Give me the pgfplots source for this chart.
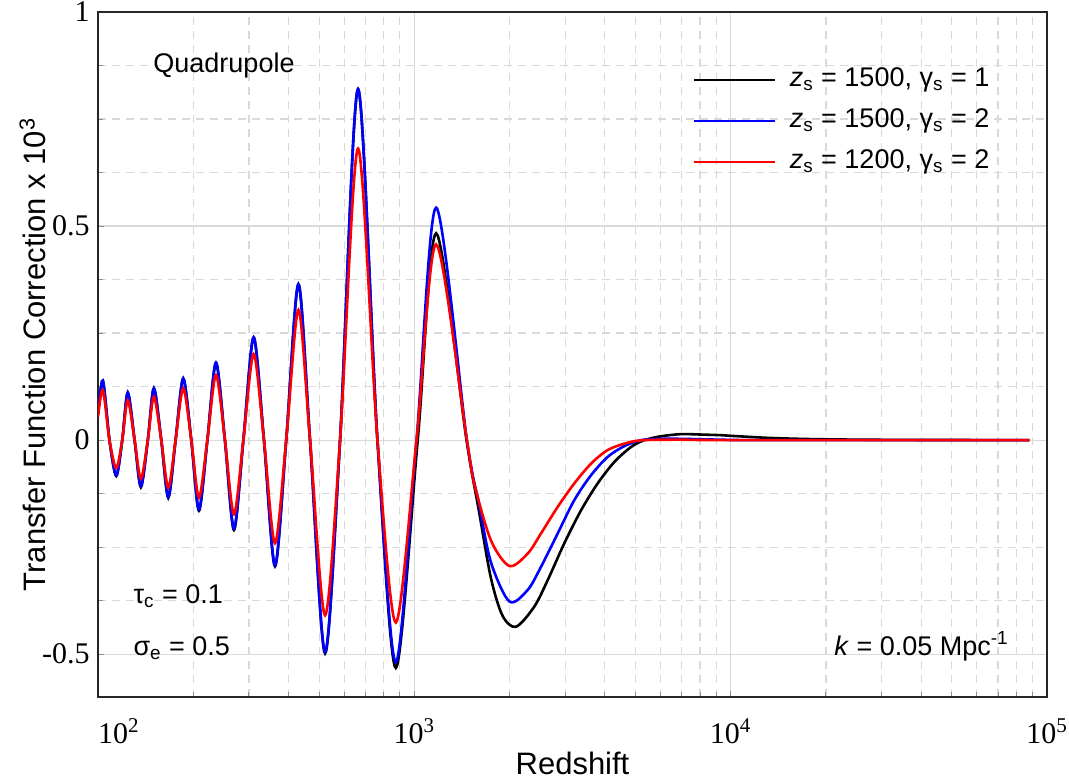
\documentclass[border=0pt]{standalone}
\usepackage{fontspec}
\setmainfont{Liberation Sans}
\newfontfamily\tmr{Liberation Serif}
\usepackage{graphicx}
\usepackage{pgfplots}
\usepackage{pgfplotstable}
\pgfplotsset{compat=1.18}

% z_s = 1500, gamma_s = 1
\pgfplotstableread{
x y
100 0.060
103.6 0.139
108.7 0
114.2 -0.084
119.3 0
124.2 0.111
130.5 0
136.6 -0.110
143.7 0
150.2 0.121
158.5 0
166.8 -0.135
175.9 0
186.0 0.144
197.2 0
208.5 -0.165
221.7 0
236.0 0.181
251.9 0
269.0 -0.210
288.1 0
310.5 0.240
334.7 0
362.7 -0.295
393.6 0
430.1 0.364
468.0 0
522.2 -0.498
582.4 0
664.0 0.820
764.6 0
873.9 -0.532
1025 0
1172 0.483
1462 0
1600 -0.165
1746 -0.322
1900 -0.410
2095 -0.436
2394 -0.389
2640 -0.327
2979 -0.241
3365 -0.164
3799 -0.101
4289 -0.051
4843 -0.016
5338 0
6026 0.009
6970 0.014
8066 0.013
9333 0.0115
10037 0.010
13430 0.005
19330 0.002
34640 0.0005
88000 0
}\tabA

% z_s = 1500, gamma_s = 2
\pgfplotstableread{
x y
100 0.060
103.6 0.139
108.7 0
114.2 -0.082
119.3 0
124.2 0.111
130.5 0
136.6 -0.107
143.7 0
150.2 0.121
158.5 0
166.8 -0.132
175.9 0
186.0 0.144
197.2 0
208.5 -0.162
221.7 0
236.0 0.181
251.9 0
269.0 -0.207
288.1 0
310.5 0.240
334.7 0
362.7 -0.292
393.6 0
430.1 0.364
468.0 0
522.2 -0.495
582.4 0
664.0 0.820
764.6 0
873.9 -0.519
1016 0
1172 0.543
1466 0
1600 -0.148
1746 -0.285
1998 -0.377
2282 -0.350
2514 -0.296
2839 -0.218
3205 -0.140
3619 -0.082
4088 -0.039
4612 -0.014
5211 0
6026 0.003
6970 0.003
9333 0.001
12490 0
88000 0
}\tabB

% z_s = 1200, gamma_s = 2
\pgfplotstableread{
x y
100 0.055
103.6 0.117
108.7 0
114.2 -0.065
119.3 0
124.2 0.093
130.5 0
136.6 -0.090
143.7 0
150.2 0.101
158.5 0
166.8 -0.111
175.9 0
186.0 0.121
197.2 0
208.5 -0.134
221.7 0
236.0 0.152
251.9 0
269.0 -0.173
288.1 0
310.5 0.201
334.7 0
362.7 -0.241
393.6 0
430.1 0.304
468.0 0
522.2 -0.409
582.4 0
664.0 0.681
764.6 0
873.9 -0.426
1016 0
1172 0.457
1466 0
1546 -0.101
1746 -0.234
1998 -0.294
2282 -0.265
2514 -0.218
2839 -0.156
3205 -0.101
3619 -0.055
4088 -0.023
4728 -0.006
5338 0
6970 0.001
10000 0
88000 0
}\tabC

\begin{document}
\begin{tikzpicture}
\useasboundingbox (-49pt,-41.5pt) rectangle (485.5pt,348.5pt);
\begin{axis}[
  scale only axis,
  width=474.5pt, height=342.5pt,
  xmode=log,
  xmin=100, xmax=100000,
  ymin=-0.6, ymax=1,
  xtick={100,1000,10000,100000},
  xticklabels={\makebox[0pt][l]{10\textsuperscript{2}},10\textsuperscript{3},10\textsuperscript{4},10\textsuperscript{5}},
  ytick={-0.5,0,0.5,1},
  yticklabels={-0.5,0,0.5,1},
  minor y tick num=3,
  xtick pos=left, ytick pos=left,
  tick align=inside,
  major tick length=3pt, minor tick length=2.5pt,
  tick style={black!45, line width=0.5pt},
  grid=both,
  major grid style={solid, black!15, line width=0.6pt},
  minor grid style={black!15, line width=0.6pt, dash pattern=on 4pt off 3pt},
  axis line style={black!85, line width=1pt},
  xticklabel style={font=\tmr\fontsize{15}{18}\selectfont, anchor=base, yshift=-23pt},
  yticklabel style={font=\tmr\fontsize{15}{18}\selectfont, anchor=east, inner sep=0pt, xshift=-4pt},
  xlabel={Redshift},
  ylabel={Transfer Function Correction x 10\textsuperscript{3}},
  label style={font=\fontsize{15.5}{18}\selectfont},
  xlabel style={at={(axis description cs:0.5,-0.1125)}, anchor=base, inner sep=0pt},
  ylabel style={at={(axis description cs:-0.0558,0.5)}, anchor=base, rotate=0},
  legend style={at={(axis description cs:0.62,0.93)}, anchor=north west,
    draw=none, fill=none, font=\fontsize{13.5}{16}\selectfont,
    row sep=5pt, column sep=6pt,
    nodes={inner sep=1pt, text height=10pt, text depth=3.5pt}},
  legend cell align=left,
  legend image code/.code={\draw[#1, line width=1pt] (0pt,0pt) -- (40.5pt,0pt);},
]
\addplot[black, line width=1.3pt, smooth] table {\tabA};
\addlegendentry{\textit{z}\textsubscript{s} = 1500, γ\textsubscript{s} = 1}
\addplot[blue, line width=1.3pt, smooth] table {\tabB};
\addlegendentry{\textit{z}\textsubscript{s} = 1500, γ\textsubscript{s} = 2}
\addplot[red, line width=1.3pt, smooth] table {\tabC};
\addlegendentry{\textit{z}\textsubscript{s} = 1200, γ\textsubscript{s} = 2}

\node[anchor=base west, inner sep=0pt, font=\fontsize{13.5}{16}\selectfont] at (axis description cs:0.058,0.911) {Quadrupole};
\node[anchor=base west, inner sep=0pt, font=\fontsize{13.5}{16}\selectfont] at (axis description cs:0.037,0.137) {τ\textsubscript{c} = 0.1};
\node[anchor=base west, inner sep=0pt, font=\fontsize{13.5}{16}\selectfont] at (axis description cs:0.037,0.0613) {σ\textsubscript{e} = 0.5};
\node[anchor=base east, inner sep=0pt, font=\fontsize{13.5}{16}\selectfont] at (axis description cs:0.96,0.0613) {\textit{k} = 0.05 Mpc\textsuperscript{-1}};
\end{axis}
\end{tikzpicture}
\end{document}
